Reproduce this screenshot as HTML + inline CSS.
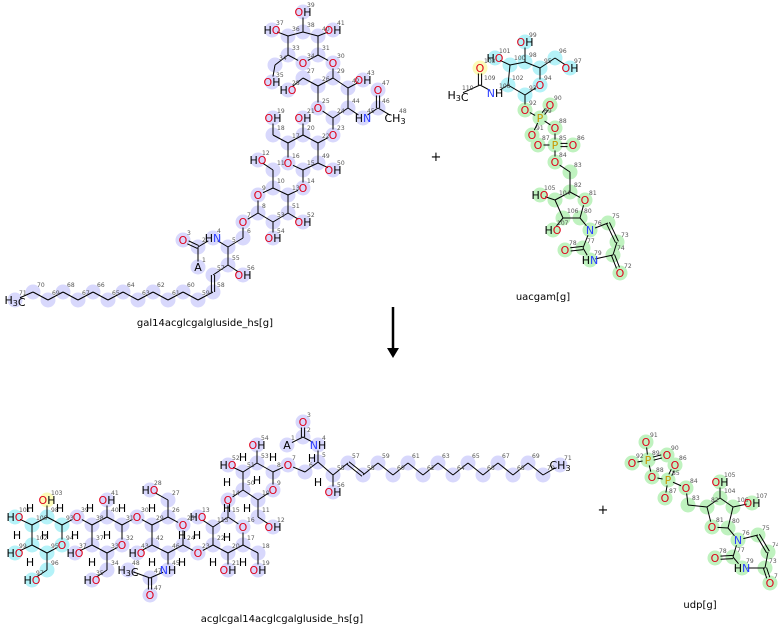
<!DOCTYPE html>
<html><head><meta charset="utf-8"><style>
html,body{margin:0;padding:0;background:#fff;width:778px;height:624px;overflow:hidden}
svg{display:block}
text{font-family:"DejaVu Sans","Liberation Sans",sans-serif}
</style></head><body>
<svg id="s" width="778" height="624" viewBox="0 0 778 624" xmlns="http://www.w3.org/2000/svg">
<g id="hl"></g><g id="bd"></g><g id="lb"></g>
<text x="205" y="326" font-size="10" text-anchor="middle">gal14acglcgalgluside_hs[g]</text>
<text x="543" y="300" font-size="10" text-anchor="middle">uacgam[g]</text>
<text x="282" y="622" font-size="10" text-anchor="middle">acglcgal14acglcgalgluside_hs[g]</text>
<text x="700" y="608" font-size="10" text-anchor="middle">udp[g]</text>
<text x="436" y="161" font-size="13" text-anchor="middle">+</text>
<text x="603" y="514" font-size="13" text-anchor="middle">+</text>
<line x1="393" y1="307" x2="393" y2="350" stroke="#000" stroke-width="2.5"/>
<polygon points="387,348 399,348 393,358" fill="#000"/>
</svg>
<script>
var NS="http://www.w3.org/2000/svg";
var L='#d8d8fc',C='#b4f2f8',G='#bff2bf',Y='#fbfbb8';
var P={};
function el(g,t,a,txt){var e=document.createElementNS(NS,t);for(var k in a)e.setAttribute(k,a[k]);if(txt!=null)e.textContent=txt;document.getElementById(g).appendChild(e);return e;}
function mol(pre,atoms,bonds,hlfn){
 atoms.forEach(function(a){var id=pre+a[0];P[id]={x:a[1],y:a[2],l:a[3]||'',n:a[0]};
  var h=hlfn(a);if(h)el('hl','circle',{cx:a[1],cy:a[2],r:7.5,fill:h});});
 bonds.forEach(function(b){var p=P[pre+b[0]],q=P[pre+b[1]];if(!p||!q)return;
  var dx=q.x-p.x,dy=q.y-p.y,d=Math.sqrt(dx*dx+dy*dy);
  var s1=p.l?5.5:0,s2=q.l?5.5:0;
  var x1=p.x+dx/d*s1,y1=p.y+dy/d*s1,x2=q.x-dx/d*s2,y2=q.y-dy/d*s2;
  if(b[2]){var ox=-dy/d*1.6,oy=dx/d*1.6;
   el('bd','line',{x1:x1+ox,y1:y1+oy,x2:x2+ox,y2:y2+oy,stroke:'#000','stroke-width':1});
   el('bd','line',{x1:x1-ox,y1:y1-oy,x2:x2-ox,y2:y2-oy,stroke:'#000','stroke-width':1});}
  else el('bd','line',{x1:x1,y1:y1,x2:x2,y2:y2,stroke:'#000','stroke-width':1});});
 atoms.forEach(function(a){var n=String(a[0]).replace(/[a-z]/g,'');
  if(n)el('lb','text',{x:a[1]+4,y:a[2]-5,'font-size':6,fill:'#555'},n);
  if(a[3]){var t=el('lb','text',{x:a[1],y:a[2]+4,'font-size':11,'text-anchor':'middle'});
   var lab=a[3];var cx=0;
   for(var i=0;i<lab.length;i++){var c=lab[i];var col=c=='O'?'#e0001a':c=='N'?'#2a3cff':c=='P'?'#c89600':'#000';
    var ts=document.createElementNS(NS,'tspan');ts.setAttribute('fill',col);
    if(c=='3'){ts.setAttribute('font-size','8');ts.setAttribute('dy','2');ts.textContent='3';t.appendChild(ts);
     var r=document.createElementNS(NS,'tspan');r.setAttribute('dy','-2');t.appendChild(r);continue;}
    ts.textContent=c;t.appendChild(ts);}
  }});
}
// top-left reactant
var aA=[[39,303,12,'OH'],[38,303,32],[37,272,30,'HO'],[36,288,36],[40,318,36],[41,333,30,'OH'],[33,288,55],[34,303,63,'O'],[31,318,55],[30,333,63,'O'],['34c',275,65],[35,272,82,'OH'],[27,303,78],[28,288,90,'HO'],[26,318,86],[29,333,78],[42,348,88],[43,363,80,'OH'],[25,318,108,'O'],[44,348,108],[24,333,118],[45,363,118,'HN'],[46,378,108],[47,378,90,'O'],[48,395,118,'CH3'],[23,333,135,'O'],[22,318,143],[20,303,135],[21,303,118,'OH'],[17,288,143],[18,273,135],[19,273,118,'OH'],[16,288,163,'O'],[15,303,170],[49,318,163],[50,333,170,'OH'],[14,303,188,'O'],[13,288,195],[11,273,170],[12,258,160,'HO'],[10,273,188],[9,258,195,'O'],[8,258,213],[51,288,213],[52,303,222,'OH'],[53,273,222],[54,273,238,'OH'],[7,243,222,'O'],[6,243,238],[5,228,247],[4,213,238,'HN'],[2,198,247],[3,183,240,'O'],[1,198,267,'A'],[55,228,265],[56,243,275,'OH'],[57,213,275],[58,213,292]];
for(var i=59;i<=70;i++)aA.push([i,198-(i-59)*15,(i%2)?300:292]);
aA.push([71,15,300,'H3C']);
var bA=[[38,39],[38,36],[38,40],[40,41],[36,37],[36,33],[33,34],[34,31],[31,40],[31,30],[33,'34c'],['34c',35],[30,29],[29,26],[26,27],[27,28],[26,25],[25,24],[24,44],[44,42],[42,29],[42,43],[44,45],[45,46],[46,47,1],[46,48],[24,23],[23,22],[22,20],[20,17],[17,16],[16,15],[15,49],[49,22],[20,21],[17,18],[18,19],[49,50],[15,14],[14,13],[13,10],[10,9],[9,8],[8,53],[53,51],[51,13],[10,11],[11,12],[51,52],[53,54],[8,7],[7,6],[6,5],[5,4],[4,2],[2,3,1],[2,1],[5,55],[55,56],[55,57],[57,58,1],[58,59]];
for(var i=59;i<71;i++)bA.push([i,i+1]);
mol('a',aA,bA,function(a){return (a[0]==48)?null:L;});
// right reactant
var aB=[[99,525,42,'OH'],[98,525,62],[95,540,68],[96,555,58],[97,570,68,'OH'],[100,510,65],[101,495,58,'HO'],[103,480,68,'O'],[102,508,85],[94,540,85,'O'],[93,525,95],[109,480,85],[110,458,95,'H3C'],[108,495,93,'NH'],[92,525,110,'O'],[89,540,118,'P'],[90,550,105,'O'],[91,532,135,'O'],[88,555,128,'O'],[85,555,145,'P'],[87,538,145,'O'],[86,573,145,'O'],[84,555,162,'O'],[83,570,172],[82,570,192],[105,540,195,'HO'],[104,555,200],[81,585,200,'O'],[80,580,218],[106,563,218],[107,553,230,'HO'],[76,590,230,'N'],[77,583,248],[78,565,250,'O'],[79,590,260,'HN'],[74,613,255],[72,620,273,'O'],[73,617,242],[75,608,223]];
var bB=[[99,98],[98,100],[98,95],[95,96],[96,97],[100,101],[100,102],[102,108],[108,109],[109,103,1],[109,110],[102,93],[93,94],[94,95],[93,92],[92,89],[89,90,1],[89,91],[89,88],[88,85],[85,87],[85,86,1],[85,84],[84,83],[83,82],[82,104],[104,105],[104,106],[106,107],[106,80],[80,81],[81,82],[80,76],[76,75],[75,73,1],[73,74],[74,72,1],[74,79],[79,77],[77,78,1],[77,76]];
mol('b',aB,bB,function(a){var n=a[0];if(n==103)return Y;if(n>=108&&n<=110)return null;if([93,94,95,96,97,98,99,100,101,102].indexOf(n)>=0)return C;return G;});
// bottom product
var aC=[[3,303,422,'O'],[2,303,437],[1,287,445,'A'],[4,318,445,'NH'],[5,318,462],[6,305,472],[7,288,465,'O'],[8,273,472],[53,257,463],[54,257,445,'OH'],[51,243,472],[52,228,465,'HO'],[50,243,490],[10,258,500],[9,273,490,'O'],[11,258,517],[12,273,527,'OH'],[55,333,475],[56,333,492,'OH'],[57,348,463],[58,363,475],
[14,228,500,'O'],[15,228,517],[16,243,527,'O'],[17,243,545],[18,258,553],[19,258,570,'OH'],[20,228,553],[21,228,570,'OH'],[22,213,545],[113,213,527],[13,198,517,'HO'],[23,198,553,'O'],[24,183,545],[25,183,525,'O'],[26,168,517],[27,168,500],[28,150,490,'HO'],[29,152,525],[42,152,545],[43,137,553,'HO'],[46,168,553],[45,168,570,'NH'],['47c',150,578],[47,150,595,'O'],[48,128,570,'H3C'],[30,137,517,'O'],[31,122,525],[32,122,545,'O'],[33,107,553],[40,107,517],[41,107,500,'OH'],[38,92,525],['37c',92,545],[37,75,553,'HO'],[34,107,570],[35,92,580,'HO'],[39,77,517,'O'],[93,62,525],[94,62,545,'O'],[95,47,553],[98,47,517],[103,47,500,'OH'],[100,32,525],[101,15,517,'HO'],[102,32,545],[99,15,553,'HO'],[96,47,570],[97,32,580,'HO']];
for(var i=59;i<=70;i++)aC.push([i,378+(i-59)*15,(i%2)?463:475]);
aC.push([71,560,465,'CH3']);
var bC=[[3,2,1],[2,1],[2,4],[4,5],[5,6],[6,7],[7,8],[8,53],[53,54],[53,51],[51,52],[51,50],[50,10],[10,9],[9,8],[10,11],[11,12],[50,14],[5,55],[55,56],[55,57],[57,58,1],[58,59],[14,15],[15,16],[16,17],[17,18],[18,19],[17,20],[20,21],[20,22],[22,113],[113,15],[22,23],[113,13],[23,24],[24,25],[25,26],[26,27],[27,28],[26,29],[29,42],[42,43],[42,46],[46,24],[46,45],[45,'47c'],['47c',47,1],['47c',48],[29,30],[30,31],[31,32],[32,33],[33,'37c'],['37c',38],[38,40],[40,31],[40,41],['37c',37],[33,34],[34,35],[38,39],[39,93],[93,94],[94,95],[95,102],[102,100],[100,98],[98,93],[98,103],[100,101],[102,99],[95,96],[96,97]];
for(var i=59;i<71;i++)bC.push([i,i+1]);
mol('c',aC,bC,function(a){var n=a[0];if(n==103)return Y;if([93,94,95,96,97,98,99,100,101,102].indexOf(n)>=0)return C;if(n==48)return L;return L;});
// H labels bottom
[[30,508],[60,508],[45,535],[17,535],[30,562],[90,508],[122,508],[107,535],[75,535],[92,562],[152,508],[152,562],[182,535],[182,562],[197,535],[213,562],[227,508],[227,537],[243,562],[243,457],[273,457],[257,480],[227,482],[247,508],[312,458],[318,482]].forEach(function(h){el('lb','text',{x:h[0],y:h[1]+4,'font-size':11,'text-anchor':'middle'},'H');});
// udp
var aD=[[91,646,442,'O'],[89,648,460,'P'],[90,667,455,'O'],[92,632,463,'O'],[88,652,477,'O'],[85,668,480,'P'],[86,675,465,'O'],[87,665,498,'O'],[84,686,488,'O'],[83,688,505],[82,707,507],[104,720,498],[105,720,482,'OH'],[106,733,507],[107,752,503,'OH'],[80,728,528],[81,712,527,'O'],[76,738,540,'N'],[75,758,535],[74,768,552],[73,765,568],[72,770,583,'O'],[79,742,568,'HN'],[77,733,557],[78,715,558,'O']];
var bD=[[91,89],[89,90,1],[89,92],[89,88],[88,85],[85,86,1],[85,87],[85,84],[84,83],[83,82],[82,104],[104,105],[104,106],[106,107],[106,80],[80,81],[81,82],[80,76],[76,75],[75,74,1],[74,73],[73,72,1],[73,79],[79,77],[77,78,1],[77,76]];
mol('d',aD,bD,function(){return G;});
</script>
</body></html>
